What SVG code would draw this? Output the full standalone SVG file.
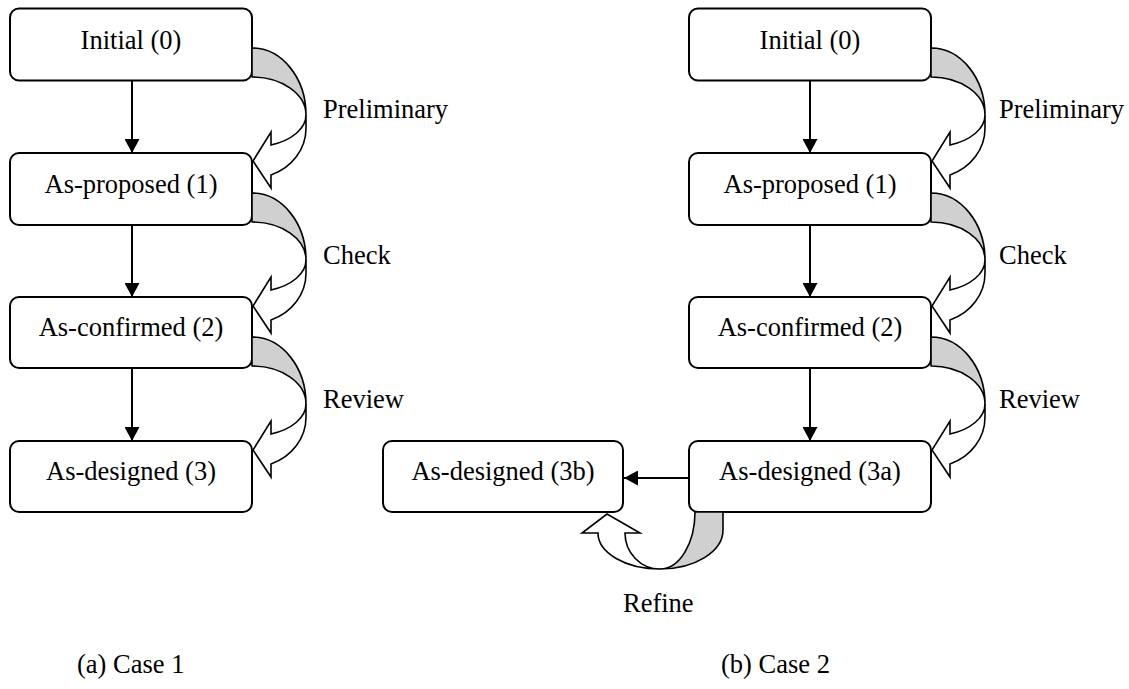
<svg xmlns="http://www.w3.org/2000/svg" width="1129" height="689" viewBox="0 0 1129 689">
  <defs>
    <marker id="arrow" viewBox="0 0 14 15" refX="14" refY="7.5" markerWidth="14" markerHeight="15" markerUnits="userSpaceOnUse" orient="auto">
      <path d="M0,0 L14,7.5 L0,15 Z" fill="#000"/>
    </marker>
    <style>
      .box { fill: #fff; stroke: #000; stroke-width: 2; }
      .lbl { font-family: "Liberation Serif", "Times New Roman", serif; font-size: 26.5px; fill: #000; }
      .mid { text-anchor: middle; }
      .flow { stroke: #000; stroke-width: 2; fill: none; }
      .back { fill: #d0d0d0; stroke: #000; stroke-width: 1.6; stroke-linejoin: round; }
      .front { fill: #fff; stroke: #000; stroke-width: 1.6; stroke-linejoin: miter; }
    </style>
  </defs>
  <rect width="1129" height="689" fill="#fff"/>

  <!-- Case 1 states -->
  <g id="c1-initial"><rect class="box" x="10" y="8.5" width="242" height="72" rx="9"/><text class="lbl mid" x="131" y="49">Initial (0)</text></g>
  <g id="c1-proposed"><rect class="box" x="10" y="153" width="242" height="72" rx="9"/><text class="lbl mid" x="131" y="193">As-proposed (1)</text></g>
  <g id="c1-confirmed"><rect class="box" x="10" y="297" width="242" height="71" rx="9"/><text class="lbl mid" x="131" y="336">As-confirmed (2)</text></g>
  <g id="c1-designed"><rect class="box" x="10" y="441" width="242" height="71" rx="9"/><text class="lbl mid" x="131" y="480">As-designed (3)</text></g>

  <!-- Case 2 states -->
  <g id="c2-initial"><rect class="box" x="689" y="8.5" width="242" height="72" rx="9"/><text class="lbl mid" x="810" y="49">Initial (0)</text></g>
  <g id="c2-proposed"><rect class="box" x="689" y="153" width="242" height="72" rx="9"/><text class="lbl mid" x="810" y="193">As-proposed (1)</text></g>
  <g id="c2-confirmed"><rect class="box" x="689" y="297" width="242" height="71" rx="9"/><text class="lbl mid" x="810" y="336">As-confirmed (2)</text></g>
  <g id="c2-designed-3a"><rect class="box" x="689" y="441" width="242" height="71" rx="9"/><text class="lbl mid" x="810" y="480">As-designed (3a)</text></g>
  <g id="c2-designed-3b"><rect class="box" x="383" y="441" width="240" height="71" rx="9"/><text class="lbl mid" x="503" y="480">As-designed (3b)</text></g>

  <!-- Connectors -->
  <g id="connectors">
    <!-- straight transitions -->
    <line class="flow" x1="132" y1="80.5" x2="132" y2="153" marker-end="url(#arrow)"/>
    <line class="flow" x1="132" y1="225" x2="132" y2="297" marker-end="url(#arrow)"/>
    <line class="flow" x1="132" y1="368" x2="132" y2="441" marker-end="url(#arrow)"/>
    <line class="flow" x1="810" y1="80.5" x2="810" y2="153" marker-end="url(#arrow)"/>
    <line class="flow" x1="810" y1="225" x2="810" y2="297" marker-end="url(#arrow)"/>
    <line class="flow" x1="810" y1="368" x2="810" y2="441" marker-end="url(#arrow)"/>
    <line class="flow" x1="689" y1="478" x2="624" y2="478" marker-end="url(#arrow)"/>

    <!-- curved process arrows, Case 1 (X0 = 252) -->
    <g id="c1-preliminary">
      <path class="back" d="M252,48 A54,67 0 0 1 306,115 A54,38 0 0 0 252,77 Z"/>
      <path class="front" d="M306,115 A54,32 0 0 1 271,145 L271,132 L253,161 L271,188 L271,175 A54,50 0 0 0 306,128 Z"/>
    </g>
    <g id="c1-check">
      <path class="back" d="M252,193 A54,67 0 0 1 306,260 A54,38 0 0 0 252,222 Z"/>
      <path class="front" d="M306,260 A54,32 0 0 1 271,290 L271,277 L253,306 L271,333 L271,320 A54,50 0 0 0 306,273 Z"/>
    </g>
    <g id="c1-review">
      <path class="back" d="M252,337 A54,67 0 0 1 306,404 A54,38 0 0 0 252,366 Z"/>
      <path class="front" d="M306,404 A54,32 0 0 1 271,434 L271,421 L253,450 L271,477 L271,464 A54,50 0 0 0 306,417 Z"/>
    </g>

    <!-- curved process arrows, Case 2 (X0 = 931) -->
    <g id="c2-preliminary">
      <path class="back" d="M931,48 A54,67 0 0 1 985,115 A54,38 0 0 0 931,77 Z"/>
      <path class="front" d="M985,115 A54,32 0 0 1 950,145 L950,132 L932,161 L950,188 L950,175 A54,50 0 0 0 985,128 Z"/>
    </g>
    <g id="c2-check">
      <path class="back" d="M931,193 A54,67 0 0 1 985,260 A54,38 0 0 0 931,222 Z"/>
      <path class="front" d="M985,260 A54,32 0 0 1 950,290 L950,277 L932,306 L950,333 L950,320 A54,50 0 0 0 985,273 Z"/>
    </g>
    <g id="c2-review">
      <path class="back" d="M931,337 A54,67 0 0 1 985,404 A54,38 0 0 0 931,366 Z"/>
      <path class="front" d="M985,404 A54,32 0 0 1 950,434 L950,421 L932,450 L950,477 L950,464 A54,50 0 0 0 985,417 Z"/>
    </g>

    <!-- refinement loop under 3a back to 3b -->
    <g id="c2-refine">
      <path class="back" d="M695,512 L723,512 L723,530 A63,39 0 0 1 660,569 A35,57 0 0 0 695,512 Z"/>
      <path class="front" d="M660,569 A62,36 0 0 1 598,533 L582,533 L607,514 L640,533 L625,533 A35,36 0 0 0 660,569 Z"/>
    </g>
  </g>

  <!-- process labels -->
  <text class="lbl" x="323" y="118">Preliminary</text>
  <text class="lbl" x="323" y="264">Check</text>
  <text class="lbl" x="323" y="408">Review</text>
  <text class="lbl" x="999" y="118">Preliminary</text>
  <text class="lbl" x="999" y="264">Check</text>
  <text class="lbl" x="999" y="408">Review</text>
  <text class="lbl" x="623" y="612">Refine</text>

  <!-- captions -->
  <text class="lbl" x="77" y="673">(a) Case 1</text>
  <text class="lbl" x="721" y="673">(b) Case 2</text>
</svg>
